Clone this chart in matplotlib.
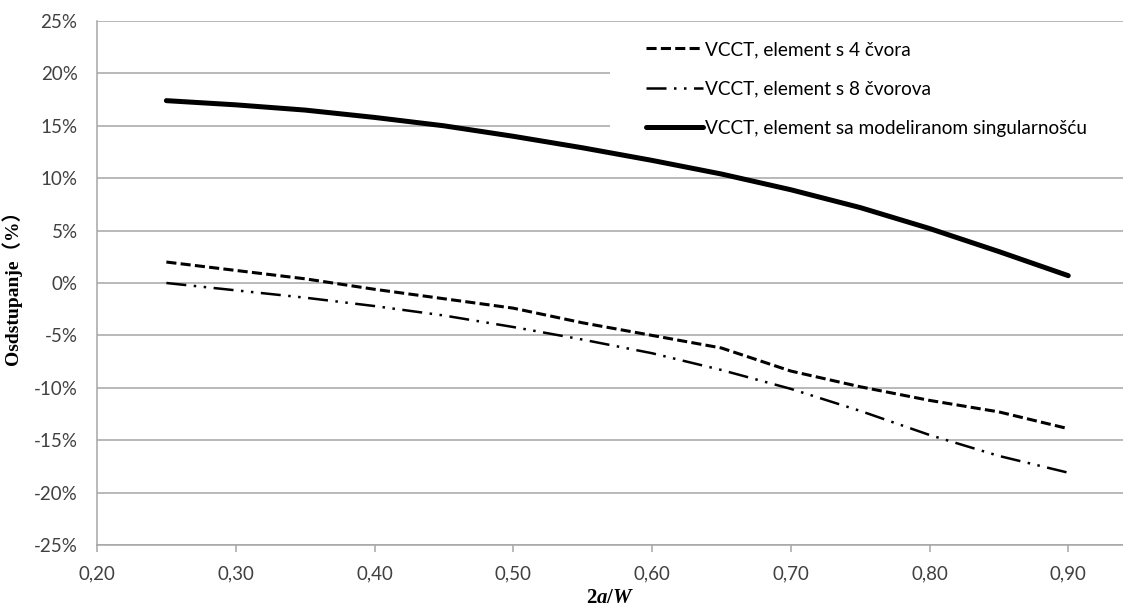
import matplotlib
matplotlib.use("Agg")
import matplotlib.pyplot as plt
from matplotlib.patches import Rectangle

# 2a/W ratio and deviation (%) for the three VCCT variants
ratio = [0.25, 0.30, 0.35, 0.40, 0.45, 0.50, 0.55, 0.60, 0.65, 0.70, 0.75, 0.80, 0.85, 0.90]
dev_4node = [2.0, 1.2, 0.4, -0.6, -1.5, -2.4, -3.8, -5.0, -6.2, -8.4, -9.9, -11.2, -12.3, -13.9]
dev_8node = [0.0, -0.7, -1.4, -2.2, -3.1, -4.2, -5.4, -6.7, -8.3, -10.1, -12.2, -14.5, -16.5, -18.1]
dev_singular = [17.4, 17.0, 16.5, 15.8, 15.0, 14.0, 12.9, 11.7, 10.4, 8.9, 7.2, 5.2, 3.0, 0.7]

labels = [
    "VCCT, element s 4 čvora",
    "VCCT, element s 8 čvorova",
    "VCCT, element sa modeliranom singularnošću",
]
x_ticks = [0.20, 0.30, 0.40, 0.50, 0.60, 0.70, 0.80, 0.90]
y_ticks = [-25, -20, -15, -10, -5, 0, 5, 10, 15, 20, 25]

plt.rcParams["font.family"] = ["Lato", "DejaVu Sans"]
plt.rcParams["mathtext.fontset"] = "custom"
plt.rcParams["mathtext.rm"] = "Liberation Serif:bold"
plt.rcParams["mathtext.it"] = "Liberation Serif:italic:bold"

W, H = 1123, 608
fig = plt.figure(figsize=(W / 100, H / 100), dpi=100)
left, right, top, bottom = 97, 1123, 21, 545
ax = fig.add_axes([left / W, 1 - bottom / H, (right - left) / W, (bottom - top) / H])

grid_c = "#a6a6a6"
text_c = "#404040"

ax.plot(ratio, dev_4node, color="black", lw=2.2, ls=(0, (3.3, 1.4)), label=labels[0], zorder=3)
ax.plot(ratio, dev_8node, color="black", lw=1.8, ls=(0, (8, 3, 1, 3, 1, 3)), label=labels[1], zorder=3)
ax.plot(ratio, dev_singular, color="black", lw=3.6, solid_capstyle="round", label=labels[2], zorder=3)

ax.set_xlim(0.20, 0.20 + (right - left) / 1387.5)
ax.set_ylim(-25, 25)
ax.set_xticks(x_ticks)
ax.set_xticklabels([f"{v:.2f}".replace(".", ",") for v in x_ticks])
ax.set_yticks(y_ticks)
ax.set_yticklabels([f"{v}%" for v in y_ticks])

ax.yaxis.grid(True, color=grid_c, lw=1.1)
ax.set_axisbelow(True)
for s in ["top", "right"]:
    ax.spines[s].set_visible(False)
for s in ["left", "bottom"]:
    ax.spines[s].set_color(grid_c)
    ax.spines[s].set_linewidth(1.1)

ax.tick_params(axis="y", length=0, pad=14, labelsize=13.5, labelcolor=text_c)
ax.tick_params(axis="x", length=5, width=1.1, color=grid_c, pad=10, labelsize=13.5, labelcolor=text_c)

ax.set_ylabel("Osdstupanje（%）", fontsize=14, fontweight="bold",
              family=["Liberation Serif", "Noto Sans CJK SC"], labelpad=8)
ax.set_xlabel(r"$\mathrm{2}\mathit{a}\mathrm{/}\mathit{W}$", fontsize=15, labelpad=3)

# white legend area hiding the gridlines, as in the original
fig.patches.append(Rectangle((610 / W, 1 - 142 / H), (W - 610) / W, (142 - 30) / H,
                             transform=fig.transFigure, facecolor="white",
                             edgecolor="none", zorder=1.5))

leg = fig.legend(loc="upper left", bbox_to_anchor=(627 / W, 1 - 22 / H),
                 fontsize=13.7, handlelength=3.0, handletextpad=0.1,
                 labelspacing=1.18, borderpad=0.5, frameon=False)
for t in leg.get_texts():
    t.set_color("black")

fig.savefig("out.png", dpi=100)
